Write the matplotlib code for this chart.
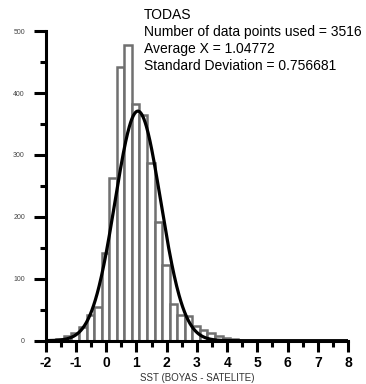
import numpy as np
import matplotlib
matplotlib.use("Agg")
import matplotlib.pyplot as plt
from matplotlib.ticker import MultipleLocator

plt.rcParams['font.family'] = ['Liberation Sans', 'DejaVu Sans']
plt.rcParams['axes.unicode_minus'] = False

# histogram data (bin left edges, width 0.25)
bin_left = [-1.9, -1.65, -1.4, -1.15, -0.9, -0.65, -0.4, -0.15, 0.1, 0.35,
            0.6, 0.85, 1.1, 1.35, 1.6, 1.85, 2.1, 2.35, 2.6, 2.85,
            3.1, 3.35, 3.6, 3.85, 4.1]
counts = [1, 2, 7, 12, 22, 41, 55, 141, 263, 442,
          478, 383, 365, 287, 192, 122, 60, 42, 40, 24,
          18, 12, 7, 4, 3]
bin_width = 0.25

# fit parameters shown in the title block
n_points = 3516
mean_x = 1.04772
std_x = 0.756681
curve_scale = 0.2  # area scaling used by the fitted curve

fig = plt.figure(figsize=(3.66, 3.84), dpi=100)
ax = fig.add_axes([0.125, 0.1128, 0.826, 0.8062])

ax.bar(bin_left, counts, width=bin_width, align='edge', facecolor='white',
       edgecolor='#707070', linewidth=1.8, zorder=2)

xs = np.linspace(-2, 8, 500)
pdf = np.exp(-0.5 * ((xs - mean_x) / std_x) ** 2) / (std_x * np.sqrt(2 * np.pi))
ax.plot(xs, n_points * curve_scale * pdf, color='black', lw=2.3, zorder=3)

ax.set_xlim(-2, 8)
ax.set_ylim(0, 500)
for s in ['top', 'right']:
    ax.spines[s].set_visible(False)
for s in ['left', 'bottom']:
    ax.spines[s].set_linewidth(2.2)
    ax.spines[s].set_zorder(4)

ax.xaxis.set_major_locator(MultipleLocator(1))
ax.xaxis.set_minor_locator(MultipleLocator(0.5))
ax.yaxis.set_major_locator(MultipleLocator(100))
ax.yaxis.set_minor_locator(MultipleLocator(50))
ax.tick_params(axis='x', which='major', length=8, width=2.2, labelsize=10, pad=3)
ax.tick_params(axis='x', which='minor', length=4, width=2.2)
ax.tick_params(axis='y', which='major', length=9, width=2.2, labelsize=5, pad=6,
               labelcolor='#444444')
ax.tick_params(axis='y', which='minor', length=4.5, width=2.2)
for lab in ax.get_xticklabels():
    lab.set_fontweight('bold')

ax.set_xlabel("SST (BOYAS - SATELITE)", fontsize=7, color='#333333', labelpad=2)

fig.text(0.393, 0.979, "TODAS\nNumber of data points used = %d\nAverage X = %s\nStandard Deviation = %s"
         % (n_points, mean_x, std_x), fontsize=10, va='top', ha='left',
         linespacing=1.28)

fig.savefig("out.png", dpi=100)
